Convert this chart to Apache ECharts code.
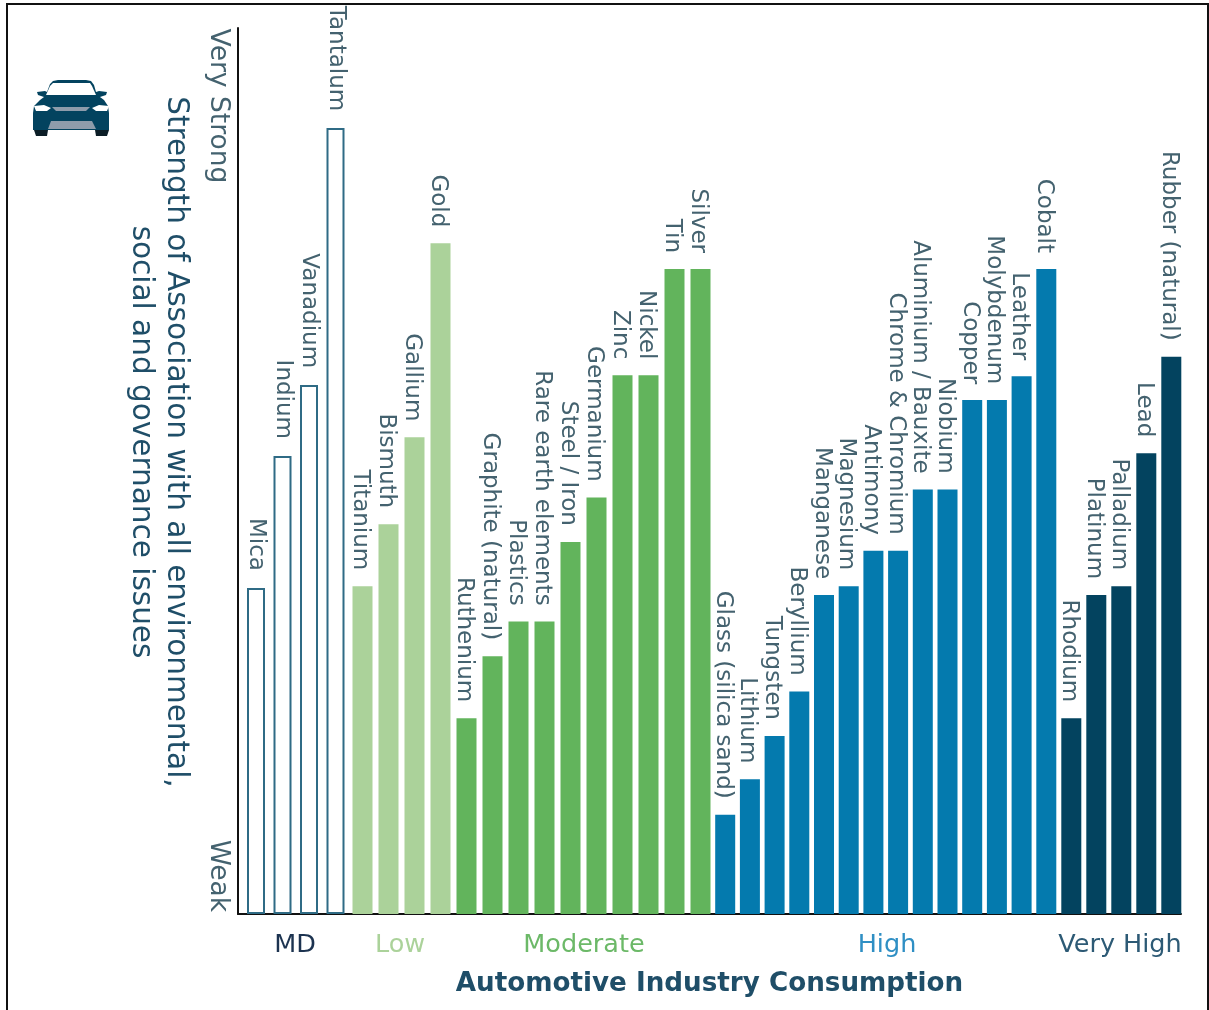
<!DOCTYPE html>
<html><head><meta charset="utf-8">
<style>html,body{margin:0;padding:0;background:#fff}#c{width:1209px;height:1010px}</style>
<script src="https://cdn.jsdelivr.net/npm/echarts@6/dist/echarts.min.js"></script>
</head><body><div id="c"></div>
<script>
const groupNames = ['MD','Low','Moderate','High','Very High'];
const mdNames = ['Mica','Indium','Vanadium','Tantalum'];
const mdValues = [36.8,51.7,59.7,88.7];
const lowNames = ['Titanium','Bismuth','Gallium','Gold'];
const lowValues = [37.0,44.0,53.8,75.7];
const moderateNames = ['Ruthenium','Graphite (natural)','Plastics','Rare earth elements','Steel / Iron','Germanium','Zinc','Nickel','Tin','Silver'];
const moderateValues = [22.1,29.1,33.0,33.0,42.0,47.0,60.8,60.8,72.8,72.8];
const highNames = ['Glass (silica sand)','Lithium','Tungsten','Beryllium','Manganese','Magnesium','Antimony','Chrome & Chromium','Aluminium / Bauxite','Niobium','Copper','Molybdenum','Leather','Cobalt'];
const highValues = [11.2,15.2,20.1,25.1,36.0,37.0,41.0,41.0,47.9,47.9,58.0,58.0,60.7,72.8];
const veryHighNames = ['Rhodium','Platinum','Palladium','Lead','Rubber (natural)'];
const veryHighValues = [22.1,36.0,37.0,52.0,62.9];
const yTickLabels = ['Weak','Very Strong'];

// layout / style (separate from data)
const pitch = [26.5,26,26,24.7,25];
const colors = ['#2f6b85','#abd29a','#62b45c','#047aae','#03435f'];
const groupLabelColors = ['#1c3350','#abd29a','#6cb968','#2f8fc4','#2d5a75'];
const groupLabelAt = [38,143,327,630,863];
const yLabelAt = [4.3,91.2];
const FONT = 'DejaVu Sans';
const TXT = '#44626f';
const TITLE = '#1f4e68';

const groups = [[mdNames,mdValues],[lowNames,lowValues],[moderateNames,moderateValues],[highNames,highValues],[veryHighNames,veryHighValues]];
let pos = 0, first = true;
const series = groups.map(([names,vals],g)=>{
  const data = vals.map((v,i)=>{
    if(first){first=false;} else {pos += pitch[g];}
    return {name:names[i], value:[pos,v]};
  });
  return {
    type:'bar', name:groupNames[g], data, barWidth: g===0?18:20, barGap:'-100%',
    itemStyle: g===0 ? {color:'#fff',borderColor:colors[0],borderWidth:2} : {color:colors[g]},
    label:{show:true,position:'top',distance:g===0?17:16,rotate:-90,align:'right',verticalAlign:'middle',offset:[0,g===0?0:2.5],
      formatter:p=>p.name,color:TXT,fontFamily:FONT,fontSize:23},
    animation:false, silent:true
  };
});

const carBody = [[33,113],[34,106],[40,100],[44,97],[38,95],[37,92],[45,91],[47,92],[50,84],[53,81],[58,80],[86,80],[91,81],[94,85],[96,92],[99,91],[107,92],[106,95],[100,97],[104,100],[108,106],[109,113],[109,130],[48,130],[33,130]];
const carGlass = [[46,95],[50,86],[53,83],[58,83],[86,83],[90,83],[92,86],[96,95]];
const grill = [[48,129],[51,121],[92,121],[96,129]];
const lampL = [[34,106],[44,105],[51,108],[47,111],[36,111]];
const lampR = [[109,106],[99,105],[92,108],[96,111],[107,111]];
const midGrill = [[52,107],[90,107],[86,111],[56,111]];
const wheelL = [[34,130],[48,130],[47,136],[36,136]];
const wheelR = [[95,130],[109,130],[107,136],[96,136]];
const poly = (points,fill)=>({type:'polygon',silent:true,shape:{points},style:{fill}});

const rich = {};
groupLabelColors.forEach((c,i)=>{rich['g'+i]={color:c,fontFamily:FONT,fontSize:25.5};});

const chart = echarts.init(document.getElementById('c'),null,{renderer:'canvas'});
chart.setOption({
  animation:false,
  backgroundColor:'#fff',
  grid:{left:238,top:28,width:943,height:886,containLabel:false},
  xAxis:{type:'value',min:-19,max:924,splitLine:{show:false},
    axisLine:{show:true,onZero:false,lineStyle:{color:'#111',width:2}},axisTick:{show:false},
    axisLabel:{show:true,customValues:groupLabelAt,margin:18,hideOverlap:false,rich,
      formatter:v=>{const i=groupLabelAt.indexOf(v);return '{g'+i+'|'+groupNames[i]+'}';}},
    name:'Automotive Industry Consumption',nameLocation:'middle',nameGap:57,
    nameTextStyle:{fontFamily:FONT,fontSize:26.2,fontWeight:600,color:TITLE}},
  yAxis:{type:'value',min:0,max:100,splitLine:{show:false},
    axisLine:{show:true,onZero:false,lineStyle:{color:'#111',width:2}},axisTick:{show:false},
    axisLabel:{show:true,customValues:yLabelAt,rotate:-90,margin:20,fontFamily:FONT,fontSize:26.5,color:TXT,
      align:'center',verticalAlign:'middle',
      formatter:v=>yTickLabels[yLabelAt.indexOf(v)]}},
  series,
  graphic:[
    {type:'rect',silent:true,z:-1,shape:{x:7,y:4,width:1201,height:1020},style:{fill:'#fff',stroke:'#111',lineWidth:2}},
    {type:'text',silent:true,x:158,y:442,rotation:-Math.PI/2,style:{
      text:'Strength of Association with all environmental,\nsocial and governance issues',
      fontFamily:FONT,fontSize:29.5,fontWeight:500,fill:TITLE,align:'center',verticalAlign:'middle',lineHeight:35}},
    poly(carBody,'#03435f'),poly(wheelL,'#0b1d26'),poly(wheelR,'#0b1d26'),poly(carGlass,'#fff'),poly(grill,'#8e9cab'),poly(midGrill,'#8e9cab'),poly(lampL,'#fff'),poly(lampR,'#fff')
  ]
});
</script></body></html>
